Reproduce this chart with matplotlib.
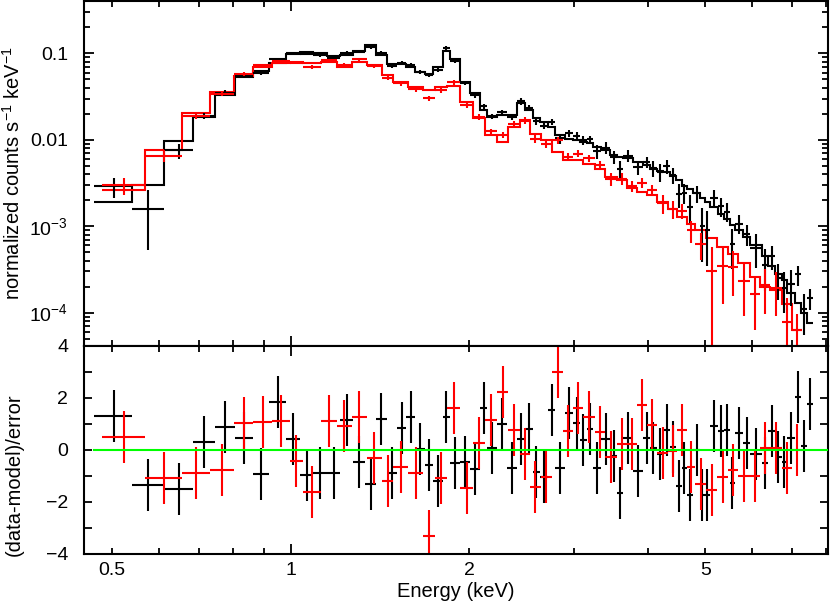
import numpy as np
import matplotlib
matplotlib.use('Agg')
import matplotlib.pyplot as plt
from matplotlib.ticker import FixedLocator, FuncFormatter, NullFormatter, LogLocator

# ---------------- data ----------------
# black spectrum: energy bin edges (keV)
black_edges = [0.465, 0.540, 0.610, 0.685, 0.745, 0.806, 0.863, 0.920, 0.981, 1.037,
               1.092, 1.150, 1.211, 1.275, 1.334, 1.392, 1.452, 1.509, 1.565, 1.620,
               1.684, 1.737, 1.804, 1.856, 1.929, 2.006, 2.085, 2.145, 2.230, 2.313,
               2.404, 2.483, 2.558, 2.632, 2.718, 2.789, 2.900, 2.995, 3.074, 3.155,
               3.236, 3.334, 3.453, 3.548, 3.636, 3.775, 3.925, 4.033, 4.139, 4.247,
               4.358, 4.456, 4.561, 4.650, 4.771, 4.896, 4.992, 5.090, 5.257, 5.374,
               5.500, 5.607, 5.791, 5.944, 6.220, 6.381, 6.549, 6.722, 6.862, 7.079,
               7.238, 7.408, 7.600]
# black model (normalized counts s^-1 keV^-1)
black_model = [0.0019, 0.00298, 0.0097, 0.0184, 0.0329, 0.0535, 0.063, 0.078, 0.098, 0.104,
               0.100, 0.093, 0.096, 0.107, 0.125, 0.096, 0.075, 0.075, 0.069, 0.061,
               0.0576, 0.069, 0.107, 0.085, 0.047, 0.035, 0.022, 0.0185, 0.0193, 0.0193,
               0.0268, 0.022, 0.0177, 0.0161, 0.0141, 0.0113, 0.0101, 0.0099, 0.0095, 0.0092,
               0.0083, 0.0076, 0.0066, 0.0063, 0.0061, 0.0055, 0.0051, 0.0046, 0.0044, 0.0042,
               0.0038, 0.0034, 0.0029, 0.0027, 0.0024, 0.0021, 0.0019, 0.00167, 0.0014, 0.0012,
               0.00102, 0.0009, 0.00075, 0.0006, 0.00045, 0.00035, 0.00028, 0.00024, 0.00017, 0.00013,
               0.0001, 0.000075]
# black residuals (data-model)/error
black_resid = [1.31, -1.35, -1.5, 0.32, 0.9, 0.45, -0.93, 1.86, 0.42, -0.96,
               -0.9, -0.9, 1.15, -0.47, -1.31, 1.19, -0.87, 0.83, 1.26, 0.05,
               -0.58, -1.18, 1.26, -0.51, -0.47, -0.74, 1.6, 0.09, 0.99, -0.71,
               0.41, 0.8, -0.86, -1.03, 1.54, -0.68, 1.44, 1.03, 0.38, 0.8,
               -0.68, 0.42, -0.23, -1.64, 0.47, -0.81, 0.47, 0.09, -0.15, 0.77,
               0.1, -1.38, -0.71, -1.73, 0.0, -1.73, -1.73, 0.92, 0.74, 0.77,
               -1.28, 0.64, 0.28, -0.15, -0.51, 0.72, -0.26, -0.47, 0.47, 2.05,
               0.17, 1.76]
# black 1-sigma error as a fraction of the model
black_frac_err = [0.40, 0.35, 0.15, 0.09, 0.07, 0.06, 0.055, 0.05, 0.045, 0.045,
                  0.045, 0.045, 0.045, 0.045, 0.045, 0.045, 0.055, 0.055, 0.055, 0.055,
                  0.055, 0.055, 0.055, 0.055, 0.055, 0.075, 0.075, 0.075, 0.075, 0.075,
                  0.09, 0.09, 0.09, 0.09, 0.09, 0.12, 0.12, 0.12, 0.12, 0.12,
                  0.16, 0.16, 0.16, 0.16, 0.16, 0.16, 0.16, 0.22, 0.22, 0.22,
                  0.22, 0.22, 0.22, 0.22, 0.22, 0.30, 0.30, 0.30, 0.30, 0.30,
                  0.30, 0.30, 0.30, 0.40, 0.40, 0.40, 0.40, 0.40, 0.55, 0.55,
                  0.55, 0.55]

# red spectrum
red_edges = [0.480, 0.568, 0.655, 0.731, 0.8025, 0.863, 0.929, 0.995, 1.049, 1.124,
             1.195, 1.267, 1.343, 1.424, 1.489, 1.579, 1.669, 1.751, 1.835, 1.929,
             2.031, 2.126, 2.225, 2.327, 2.435, 2.531, 2.639, 2.754, 2.881, 2.995,
             3.113, 3.258, 3.387, 3.544, 3.684, 3.830, 3.982, 4.139, 4.330, 4.473,
             4.650, 4.802, 5.012, 5.236, 5.463, 5.680, 5.944, 6.180, 6.425, 6.722,
             7.005, 7.266]
red_model = [0.00265, 0.00758, 0.0202, 0.0359, 0.0546, 0.0689, 0.0765, 0.080, 0.0766, 0.0786,
             0.070, 0.080, 0.0732, 0.056, 0.047, 0.0403, 0.0376, 0.0403, 0.042, 0.0275,
             0.018, 0.0113, 0.0095, 0.0141, 0.0169, 0.0118, 0.0099, 0.00725, 0.0058, 0.0058,
             0.0053, 0.00465, 0.0037, 0.0034, 0.0028, 0.0025, 0.0023, 0.0019, 0.0016, 0.00128,
             0.00107, 0.0009, 0.00072, 0.000575, 0.00048, 0.00037, 0.00026, 0.0002, 0.000184, 0.000127,
             0.000062]
red_resid = [0.49, -1.06, -0.87, -0.77, 1.03, 1.09, 1.12, -0.41, -1.6, 1.12,
             0.92, 1.28, -0.32, -1.19, -0.67, -0.87, -3.31, -1.09, 1.6, -1.47,
             0.28, 1.15, 2.24, 0.77, -0.15, -1.41, -1.03, 2.99, 0.74, 1.63,
             1.28, 0.71, -0.28, 0.25, 0.25, 1.73, 0.96, -0.13, -0.05, 0.77,
             -0.67, -1.31, -1.54, -1.05, -0.77, -0.99, -0.99, 0.06, 0.09, -0.71,
             0.0]
red_frac_err = [0.25, 0.13, 0.08, 0.06, 0.05, 0.05, 0.05, 0.05, 0.05, 0.05,
                0.05, 0.05, 0.05, 0.06, 0.06, 0.06, 0.06, 0.06, 0.06, 0.06,
                0.09, 0.09, 0.09, 0.09, 0.09, 0.09, 0.09, 0.12, 0.12, 0.12,
                0.12, 0.12, 0.16, 0.16, 0.16, 0.16, 0.16, 0.24, 0.24, 0.24,
                0.24, 0.24, 0.38, 0.38, 0.38, 0.38, 0.38, 0.55, 0.55, 0.55,
                0.55]

x_ticklabels = {0.5: '0.5', 1.0: '1', 2.0: '2', 5.0: '5'}
y_ticklabels = {0.1: '0.1', 0.01: '0.01', 1e-3: '$10^{-3}$', 1e-4: '$10^{-4}$'}
resid_ticks = [-4, -2, 0, 2, 4]

# ---------------- style ----------------
plt.rcParams['font.family'] = ['Liberation Sans', 'DejaVu Sans']
plt.rcParams['mathtext.fontset'] = 'custom'
plt.rcParams['mathtext.rm'] = 'Liberation Sans'
plt.rcParams['mathtext.it'] = 'Liberation Sans:italic'
plt.rcParams['mathtext.default'] = 'regular'
plt.rcParams['font.size'] = 14

BLACK = '#000000'
RED = '#ff0000'
GREEN = '#00ff00'
LW = 1.5

W, H = 830, 607
fig = plt.figure(figsize=(W / 100, H / 100), dpi=100)
L, R = 84, 828
ax1 = fig.add_axes([L / W, 1 - 346 / H, (R - L) / W, 345 / H])
ax2 = fig.add_axes([L / W, 1 - 554 / H, (R - L) / W, 208 / H], sharex=ax1)


def draw(edges, model, resid, frac, color):
    e = np.asarray(edges)
    m = np.asarray(model)
    r = np.asarray(resid)
    f = np.asarray(frac)
    lo, hi = e[:-1], e[1:]
    xc = 0.5 * (lo + hi)
    err = m * f
    data = m + r * err
    low = np.maximum(data - err, 1e-7)
    ax1.stairs(m, e, color=color, lw=LW, baseline=None)
    ax1.errorbar(xc, data, xerr=[xc - lo, hi - xc], yerr=[data - low, err],
                 fmt='none', ecolor=color, elinewidth=LW, capsize=0)
    ax2.errorbar(xc, r, xerr=[xc - lo, hi - xc], yerr=np.ones_like(r),
                 fmt='none', ecolor=color, elinewidth=LW, capsize=0)


draw(black_edges, black_model, black_resid, black_frac_err, BLACK)
draw(red_edges, red_model, red_resid, red_frac_err, RED)

ax2.plot([min(black_edges[0], red_edges[0]), 8.05], [0, 0], color=GREEN, lw=LW, zorder=5)

for ax in (ax1, ax2):
    ax.set_xscale('log')
    for s in ax.spines.values():
        s.set_linewidth(1.5)
    ax.tick_params(which='both', direction='in', top=True, right=True, width=1.3)
    ax.tick_params(which='major', length=7.2)
    ax.tick_params(which='minor', length=4.3)

ax1.set_xlim(0.448, 8.05)
ax1.set_yscale('log')
ax1.set_ylim(4.1e-5, 0.404)

ax1.xaxis.set_major_locator(FixedLocator([1.0]))
ax1.xaxis.set_minor_locator(FixedLocator([0.5, 0.6, 0.7, 0.8, 0.9, 2, 3, 4, 5, 6, 7, 8]))
lab = lambda v, p: x_ticklabels.get(round(v, 3), '')
ax2.xaxis.set_major_formatter(FuncFormatter(lab))
ax2.xaxis.set_minor_formatter(FuncFormatter(lab))
ax1.tick_params(axis='x', which='both', labelbottom=False)
ax2.tick_params(axis='x', which='both', pad=6)

ax1.yaxis.set_major_locator(LogLocator(base=10, numticks=20))
ax1.yaxis.set_minor_locator(LogLocator(base=10, subs=np.arange(2, 10), numticks=20))
ax1.yaxis.set_minor_formatter(NullFormatter())
ax1.yaxis.set_major_formatter(FuncFormatter(
    lambda v, p: next((t for k, t in y_ticklabels.items() if abs(np.log10(v) - np.log10(k)) < 1e-6), '')))
ax1.tick_params(axis='y', which='both', pad=11.5)

ax2.set_ylim(-4, 4)
ax2.set_yticks(resid_ticks)
ax2.set_yticks(np.arange(-3, 4, 2), minor=True)
ax2.tick_params(axis='y', which='both', length=5.8, pad=11.5)

ax1.set_ylabel('normalized counts s$^{-1}$ keV$^{-1}$', fontsize=14.5)
ax1.yaxis.set_label_coords(-0.081, 0.5)
ax2.set_ylabel('(data-model)/error', fontsize=14.5)
ax2.yaxis.set_label_coords(-0.081, 0.38)
ax2.set_xlabel('Energy (keV)', fontsize=14.5)
ax2.xaxis.set_label_coords(0.5, -0.135)
ax2.xaxis.label.set_va('top')

fig.savefig('out.png', dpi=100)
